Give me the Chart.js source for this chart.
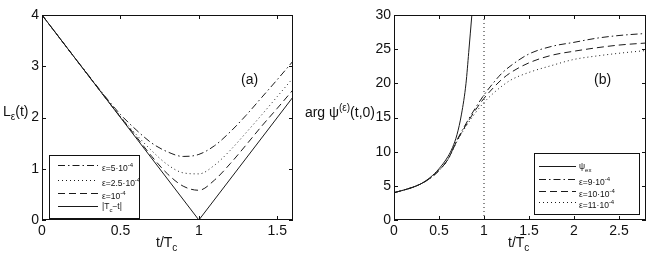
<!DOCTYPE html>
<html>
<head>
<meta charset="utf-8">
<script src="https://cdn.jsdelivr.net/npm/chart.js@4"></script>
<style>
  body { margin: 0; background: #fff; font-family: "Liberation Sans", Arial, sans-serif; color: #111; }
  #wrap { position: relative; width: 656px; height: 267px; overflow: hidden; }
  canvas { position: absolute; top: 0; }
  .lbl { position: absolute; font-size: 14px; white-space: nowrap; line-height: 1; }
  .lbl sub, .lbl sup { font-size: 10px; }
  .legend { position: absolute; border: 1px solid #111; background: #fff; font-size: 8.5px; }
  .legend .row { position: absolute; left: 0; height: 10px; white-space: nowrap; }
  .legend svg { position: absolute; left: 0; top: 0; }
  .legend span { position: absolute; top: 0; line-height: 10px; }
  .legend sup, .legend sub { font-size: 6px; }
</style>
</head>
<body>
<div id="wrap">
  <canvas id="chartA" width="330" height="267" style="left:0"></canvas>
  <canvas id="chartB" width="326" height="267" style="left:330px"></canvas>

  <div class="lbl" style="left:3px; top:104px">L<sub>ε</sub>(t)</div>
  <div class="lbl" style="left:156px; top:235px">t/T<sub>c</sub></div>
  <div class="lbl" style="left:241px; top:72px">(a)</div>

  <div class="lbl" style="right:281px; top:103px">arg ψ<sup>(ε)</sup>(t,0)</div>
  <div class="lbl" style="left:508px; top:235px">t/T<sub>c</sub></div>
  <div class="lbl" style="left:594px; top:72px">(b)</div>

  <div id="legendA" class="legend" style="left:49px; top:155px; width:89px; height:62px"></div>
  <div id="legendB" class="legend" style="left:534px; top:153px; width:104px; height:60px"></div>
</div>
<script>
// panel (a): L_eps(t) against t/Tc
const tA = [0, 0.1, 0.2, 0.3, 0.4, 0.5, 0.6, 0.7, 0.8, 0.9, 1.0, 1.1, 1.2, 1.3, 1.4, 1.5, 1.6];
const lEps5 = [4.0, 3.6, 3.2, 2.81, 2.42, 2.06, 1.76, 1.5, 1.33, 1.24, 1.28, 1.45, 1.72, 2.04, 2.39, 2.74, 3.1];
const lEps25 = [4.0, 3.6, 3.2, 2.8, 2.41, 2.02, 1.67, 1.35, 1.08, 0.92, 0.9, 1.07, 1.36, 1.7, 2.05, 2.41, 2.77];
const lEps1 = [4.0, 3.6, 3.2, 2.8, 2.4, 2.01, 1.63, 1.24, 0.9, 0.66, 0.58, 0.78, 1.1, 1.46, 1.83, 2.18, 2.54];
const tAbs = [0, 1, 1.6];
const lAbs = [4, 0, 2.4];
const ticksA_x = [0, 0.5, 1, 1.5];
const ticksA_y = [0, 1, 2, 3, 4];

// panel (b): arg psi(t,0) against t/Tc
const tEx = [0, 0.1, 0.2, 0.3, 0.4, 0.5, 0.6, 0.65, 0.7, 0.75, 0.8, 0.83, 0.865];
const psiEx = [4.0, 4.35, 4.75, 5.3, 6.2, 7.5, 9.3, 10.6, 12.5, 15.5, 20, 24.5, 30];
const tB = [0, 0.1, 0.2, 0.3, 0.4, 0.5, 0.6, 0.7, 0.8, 0.9, 1.0, 1.1, 1.2, 1.3, 1.5, 1.75, 2.0, 2.25, 2.5, 2.8];
const psiEps9 = [4.0, 4.35, 4.75, 5.3, 6.1, 7.25, 8.9, 11.7, 14.1, 16.3, 18.3, 20.0, 21.5, 22.6, 24.3, 25.4, 26.0, 26.6, 27.0, 27.3];
const psiEps10 = [4.0, 4.35, 4.75, 5.3, 6.1, 7.25, 8.9, 11.6, 13.9, 16.0, 17.8, 19.3, 20.6, 21.6, 23.0, 24.1, 24.7, 25.2, 25.6, 25.9];
const psiEps11 = [4.0, 4.35, 4.75, 5.3, 6.1, 7.25, 8.85, 11.5, 13.7, 15.6, 17.2, 18.5, 19.6, 20.5, 21.6, 22.6, 23.5, 24.0, 24.4, 24.8];
const tCrit = [1, 1];
const critLine = [0, 30];
const ticksB_x = [0, 0.5, 1, 1.5, 2, 2.5];
const ticksB_y = [0, 5, 10, 15, 20, 25, 30];

const INK = '#1a1a1a';
const DASHDOT = [7, 3, 1.5, 3];
const DASHED = [7, 4];
const DOTTED = [1, 3];

const pts = (xs, ys) => xs.map((x, i) => ({ x, y: ys[i] }));

function line(label, xs, ys, dash, smooth) {
  return {
    label, data: pts(xs, ys), borderColor: INK, borderWidth: 1, borderDash: dash || [],
    pointRadius: 0, fill: false, showLine: true,
    cubicInterpolationMode: smooth ? 'monotone' : 'default', tension: 0
  };
}

// box round the plot with short inward ticks on all four sides (matlab look)
const boxPlugin = {
  id: 'box',
  afterDraw(chart) {
    const { ctx, chartArea: a, scales } = chart;
    ctx.save();
    ctx.strokeStyle = '#111'; ctx.lineWidth = 1; ctx.setLineDash([]);
    ctx.strokeRect(a.left + 0.5, a.top + 0.5, a.right - a.left - 1, a.bottom - a.top - 1);
    ctx.beginPath();
    scales.x.ticks.forEach(t => {
      const px = Math.round(scales.x.getPixelForValue(t.value)) + 0.5;
      ctx.moveTo(px, a.bottom); ctx.lineTo(px, a.bottom - 4);
      ctx.moveTo(px, a.top); ctx.lineTo(px, a.top + 4);
    });
    scales.y.ticks.forEach(t => {
      const py = Math.round(scales.y.getPixelForValue(t.value)) + 0.5;
      ctx.moveTo(a.left, py); ctx.lineTo(a.left + 4, py);
      ctx.moveTo(a.right, py); ctx.lineTo(a.right - 4, py);
    });
    ctx.stroke();
    ctx.restore();
  }
};

function axes(xMax, yMax, xTicks, yTicks, yWidth) {
  const tickFont = { family: '"Liberation Sans", Arial, sans-serif', size: 14 };
  const fmt = v => String(v);
  return {
    x: {
      type: 'linear', min: 0, max: xMax,
      afterBuildTicks: s => { s.ticks = xTicks.map(v => ({ value: v })); },
      afterFit: s => { s.height = 47; },
      grid: { display: false, drawTicks: false }, border: { display: false },
      ticks: { color: '#111', font: tickFont, padding: 3, maxRotation: 0, callback: fmt }
    },
    y: {
      type: 'linear', min: 0, max: yMax,
      afterBuildTicks: s => { s.ticks = yTicks.map(v => ({ value: v })); },
      afterFit: s => { s.width = yWidth; },
      grid: { display: false, drawTicks: false }, border: { display: false },
      ticks: { color: '#111', font: tickFont, padding: 3, callback: fmt }
    }
  };
}

function baseOptions(xMax, yMax, xTicks, yTicks, yWidth, padRight) {
  return {
    responsive: false, animation: false, devicePixelRatio: 1,
    layout: { padding: { top: 15, right: padRight, left: 0, bottom: 0 } },
    plugins: { legend: { display: false }, tooltip: { enabled: false } },
    scales: axes(xMax, yMax, xTicks, yTicks, yWidth)
  };
}

new Chart(document.getElementById('chartA'), {
  type: 'scatter',
  data: { datasets: [
    line('ε=5·10^-4', tA, lEps5, DASHDOT, true),
    line('ε=2.5·10^-4', tA, lEps25, DOTTED, true),
    line('ε=10^-4', tA, lEps1, DASHED, true),
    line('|Tc-t|', tAbs, lAbs, [], false)
  ] },
  options: baseOptions(1.6, 4, ticksA_x, ticksA_y, 42, 37),
  plugins: [boxPlugin]
});

new Chart(document.getElementById('chartB'), {
  type: 'scatter',
  data: { datasets: [
    line('psi_ex', tEx, psiEx, [], true),
    line('ε=9·10^-4', tB, psiEps9, DASHDOT, true),
    line('ε=10·10^-4', tB, psiEps10, DASHED, true),
    line('ε=11·10^-4', tB, psiEps11, DOTTED, true),
    line('t=Tc', tCrit, critLine, [1, 3], false)
  ] },
  options: baseOptions(2.8, 30, ticksB_x, ticksB_y, 64, 10),
  plugins: [boxPlugin]
});

// legends drawn as html so sub/superscripts stay real text
function legend(el, rows, x0, x1, textX, rowY) {
  el.innerHTML = rows.map((r, i) => {
    const dash = r.dash.length ? `stroke-dasharray="${r.dash.join(' ')}"` : '';
    return `<div class="row" style="top:${rowY[i] - 5}px; width:100%">
      <svg width="${x1 + 2}" height="10"><line x1="${x0}" y1="5.5" x2="${x1}" y2="5.5" stroke="${INK}" stroke-width="1" ${dash}/></svg>
      <span style="left:${textX}px">${r.text}</span></div>`;
  }).join('');
}

legend(document.getElementById('legendA'), [
  { dash: DASHDOT, text: 'ε=5·10<sup>-4</sup>' },
  { dash: DOTTED, text: 'ε=2.5·10<sup>-4</sup>' },
  { dash: DASHED, text: 'ε=10<sup>-4</sup>' },
  { dash: [], text: '|T<sub>c</sub>−t|' }
], 8, 48, 52, [9, 24, 37, 50]);

legend(document.getElementById('legendB'), [
  { dash: [], text: 'ψ<sub>ex</sub>' },
  { dash: DASHDOT, text: 'ε=9·10<sup>-4</sup>' },
  { dash: DASHED, text: 'ε=10·10<sup>-4</sup>' },
  { dash: DOTTED, text: 'ε=11·10<sup>-4</sup>' }
], 4, 41, 44, [12, 25, 37, 48]);
</script>
</body>
</html>
